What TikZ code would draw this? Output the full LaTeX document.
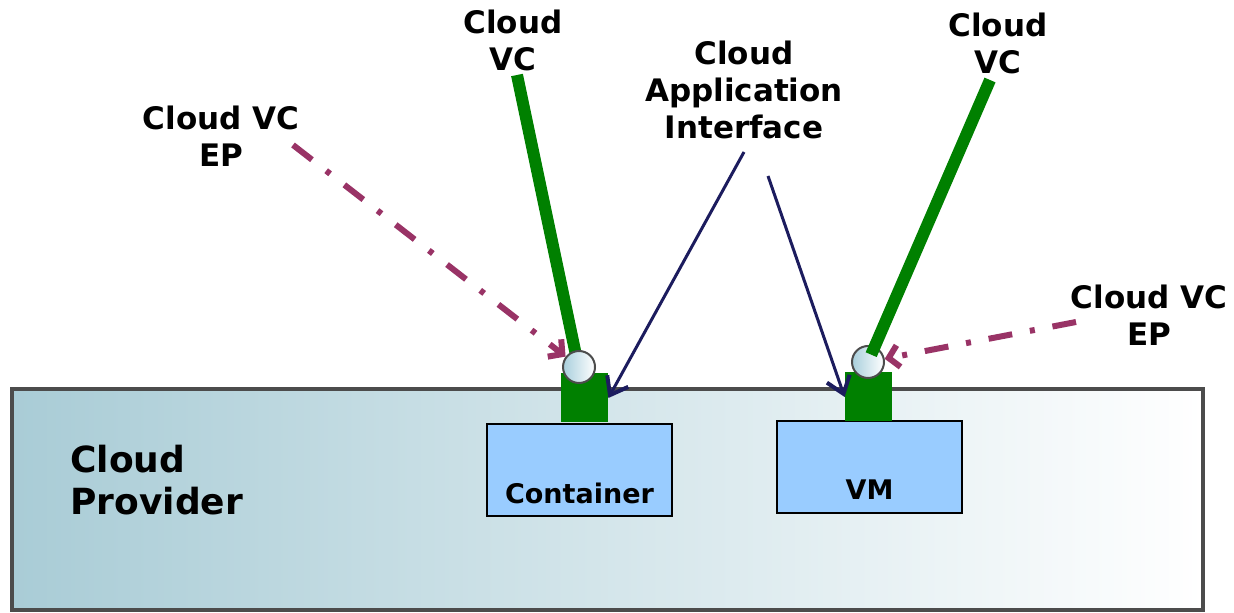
\documentclass[tikz,border=0pt]{standalone}
\usepackage{fontspec}
\setmainfont{DejaVu Sans}
\usepackage{xcolor}
\usetikzlibrary{arrows.meta}
\definecolor{vcgreen}{HTML}{008000}
\definecolor{epplum}{HTML}{993366}
\definecolor{apinavy}{HTML}{1C1C5E}
\definecolor{boxblue}{HTML}{99CCFF}
\definecolor{provblue}{HTML}{A9CCD6}
\definecolor{epblue}{HTML}{A8CFDC}
\tikzstyle{lbl}=[align=center, inner sep=0pt, font=\bfseries\fontsize{15.5}{18.5}\selectfont]
\tikzstyle{provider}=[draw=black!70, line width=2pt, left color=provblue, right color=white, minimum width=595.5pt, minimum height=110.5pt, inner sep=0pt]
\tikzstyle{host}=[draw=black, line width=1pt, fill=boxblue, minimum width=92.5pt, minimum height=46pt, inner sep=0pt]
\tikzstyle{port}=[fill=vcgreen, minimum width=23.5pt, minimum height=24.5pt, inner sep=0pt]
\tikzstyle{ep}=[circle, draw=black!70, line width=1pt, left color=epblue, right color=white, minimum size=16pt, inner sep=0pt]
\tikzstyle{vc}=[vcgreen, line width=6pt]
\tikzstyle{eplink}=[epplum, line width=3pt, dash pattern=on 12pt off 9pt on 2.5pt off 9pt, -{Straight Barb[length=5pt,width=11pt]}]
\tikzstyle{apilink}=[apinavy, line width=1.5pt, -{Straight Barb[length=8pt,width=12pt,line width=2pt]}]

\begin{document}
\begin{tikzpicture}[x=0.5pt,y=-0.5pt]
      \useasboundingbox (0,0) rectangle (1234,613);
      \node[provider] (prov) at (607.5,499.5) {};
      \node[lbl, anchor=west, align=left, font=\bfseries\fontsize{18}{21}\selectfont] (provtxt) at (70,480) {Cloud\\Provider};
      \node[host] (ctr) at (579.5,470) {};
      \node[lbl, font=\bfseries\fontsize{13.5}{16}\selectfont] (ctrtxt) at (579.5,493) {Container};
      \node[host] (vm) at (869.5,467) {};
      \node[lbl, font=\bfseries\fontsize{13.5}{16}\selectfont] (vmtxt) at (869.5,490) {VM};
      \node[port] (gL) at (584.5,398) {};
      \node[port] (gR) at (868.5,397) {};
      \node[lbl] (vcL) at (513,40) {Cloud\\VC};
      \node[lbl] (vcR) at (998,43) {Cloud\\VC};
      \node[lbl] (epLtxt) at (221,136) {Cloud VC\\EP};
      \node[lbl] (epRtxt) at (1149,315) {Cloud VC\\EP};
      \node[lbl] (api) at (744,90) {Cloud\\Application\\Interface};
      \coordinate (vcLtop) at (517,75);
      \coordinate (vcRtop) at (990,80);
      \coordinate (epLfrom) at (293,145);
      \coordinate (epRfrom) at (1076,322);
      \coordinate (apiL) at (744,152);
      \coordinate (apiR) at (768,176);
      \draw [vc] (vcLtop) -- (577,360);
      \node[ep] (epL) at (579,367) {};
      \node[ep] (epR) at (868,362) {};
      \draw [vc,shorten >=4pt] (vcRtop) -- (epR.center);
      \draw [eplink] (epLfrom) -- (epL);
      \draw [eplink] (epRfrom) -- (epR);
      \draw [apilink] (apiL) -- (gL.east);
      \draw [apilink] (apiR) -- (gR.west);
    \end{tikzpicture}
\end{document}
